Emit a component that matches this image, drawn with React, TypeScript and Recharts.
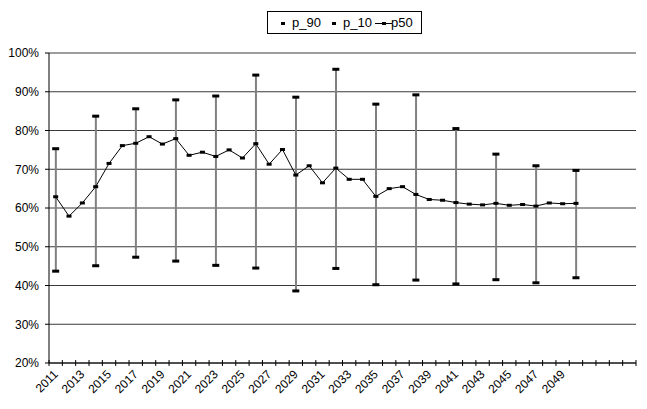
import { ComposedChart, Line, Bar, XAxis, YAxis, CartesianGrid, Legend } from 'recharts'

const years = [
  '2011', '2012', '2013', '2014', '2015', '2016', '2017', '2018', '2019', '2020',
  '2021', '2022', '2023', '2024', '2025', '2026', '2027', '2028', '2029', '2030',
  '2031', '2032', '2033', '2034', '2035', '2036', '2037', '2038', '2039', '2040',
  '2041', '2042', '2043', '2044', '2045', '2046', '2047', '2048', '2049', '2050',
  '', '', '', '',
]

// median, one per year 2011..2050
const p50 = [
  62.9, 57.9, 61.3, 65.5, 71.5, 76.1, 76.7, 78.4, 76.5, 77.9,
  73.6, 74.4, 73.3, 75.0, 72.9, 76.6, 71.3, 75.1, 68.5, 70.9,
  66.5, 70.3, 67.4, 67.4, 63.0, 65.0, 65.5, 63.5, 62.2, 62.0,
  61.4, 61.0, 60.8, 61.2, 60.7, 60.9, 60.5, 61.3, 61.1, 61.2,
]

// percentile bands, only every third year
const bandYears = ['2011', '2014', '2017', '2020', '2023', '2026', '2029', '2032', '2035', '2038', '2041', '2044', '2047', '2050']
const p90 = [75.3, 83.7, 85.6, 87.9, 88.9, 94.3, 88.6, 95.8, 86.8, 89.2, 80.5, 73.9, 70.9, 69.7]
const p10 = [43.7, 45.1, 47.3, 46.3, 45.2, 44.5, 38.6, 44.4, 40.2, 41.4, 40.4, 41.5, 40.7, 42.0]

const yTicks = [20, 30, 40, 50, 60, 70, 80, 90, 100]

const W = 647
const H = 409
const MARGIN = { top: 53, right: 11, left: 0, bottom: 0 }
const Y_AXIS_W = 49
const HALF_BAND = (W - MARGIN.left - MARGIN.right - Y_AXIS_W) / years.length / 2
const FONT = '"Liberation Sans", Arial, sans-serif'

const data = years.map((year, i) => {
  const b = year === '' ? -1 : bandYears.indexOf(year)
  return {
    year,
    p50: i < p50.length ? p50[i] : null,
    p90: b >= 0 ? p90[b] : null,
    p10: b >= 0 ? p10[b] : null,
    band: b >= 0 ? [p10[b], p90[b]] : null,
  }
})

function Dash(w: number, h: number) {
  return (props: any) => {
    const { cx, cy, value, index } = props
    if (value == null || cy == null || !Number.isFinite(cy)) return <g key={`d-${index}`} />
    return <rect key={`d-${index}`} x={cx - w / 2} y={cy - h / 2} width={w} height={h} fill="#000" />
  }
}

function HiLo(props: any) {
  const { x, y, width, height } = props
  if (!Number.isFinite(y) || !Number.isFinite(height) || height === 0) return <g />
  const cx = x + width / 2
  return <line x1={cx} x2={cx} y1={y} y2={y + height} stroke="#808080" strokeWidth={2} />
}

function XTick(props: any) {
  const { x, y, payload, index } = props
  const label = payload.value
  const last = index === years.length - 1
  return (
    <g>
      <line x1={x - HALF_BAND} x2={x - HALF_BAND} y1={y - 3} y2={y + 3} stroke="#000" />
      {last && <line x1={x + HALF_BAND} x2={x + HALF_BAND} y1={y - 3} y2={y + 3} stroke="#000" />}
      {label !== '' && index % 2 === 0 && (
        <text
          x={x + 3}
          y={y + 12}
          textAnchor="end"
          transform={`rotate(-45 ${x + 3} ${y + 12})`}
          fontSize={12}
          fontFamily={FONT}
          fill="#000"
        >
          {label}
        </text>
      )}
    </g>
  )
}

function LegendBox() {
  const txt = { position: 'absolute' as const, top: 3, fontSize: 13, lineHeight: '16px' }
  const dash = (left: number, width = 4) => (
    <span style={{ position: 'absolute', left, top: 10, width, height: 3, background: '#000' }} />
  )
  return (
    <div
      style={{
        position: 'relative',
        width: 155,
        height: 23,
        boxSizing: 'border-box',
        border: '1px solid #000',
        background: '#fff',
        fontFamily: FONT,
        color: '#000',
      }}
    >
      {dash(13)}
      <span style={{ ...txt, left: 24 }}>p_90</span>
      {dash(64)}
      <span style={{ ...txt, left: 75 }}>p_10</span>
      <span style={{ position: 'absolute', left: 107, top: 11, width: 17, height: 1, background: '#000' }} />
      {dash(114, 4)}
      <span style={{ ...txt, left: 123 }}>p50</span>
    </div>
  )
}

export default function App() {
  return (
    <div style={{ position: 'absolute', left: 0, top: 0, width: W, height: H, background: '#fff' }}>
      <ComposedChart width={W} height={H} data={data} margin={MARGIN}>
        <CartesianGrid horizontal vertical={false} stroke="#3a3a3a" />
        <XAxis
          dataKey="year"
          interval={0}
          height={46}
          tickSize={0}
          tickMargin={0}
          tickLine={false}
          tick={<XTick />}
          axisLine={{ stroke: '#000' }}
        />
        <YAxis
          type="number"
          domain={[20, 100]}
          ticks={yTicks}
          width={Y_AXIS_W}
          tickSize={4}
          tickMargin={6}
          tickFormatter={(v) => `${v}%`}
          tick={{ fontSize: 12, fill: '#000', fontFamily: FONT }}
          tickLine={{ stroke: '#000' }}
          axisLine={{ stroke: '#000' }}
        />
        <Legend
          layout="horizontal"
          verticalAlign="middle"
          align="center"
          content={() => <LegendBox />}
          wrapperStyle={{ top: 11, left: 267, width: 155, height: 23 }}
        />
        <Bar dataKey="band" shape={<HiLo />} isAnimationActive={false} />
        <Line
          dataKey="p90"
          stroke="none"
          dot={Dash(7, 3)}
          activeDot={false}
          isAnimationActive={false}
        />
        <Line
          dataKey="p10"
          stroke="none"
          dot={Dash(7, 3)}
          activeDot={false}
          isAnimationActive={false}
        />
        <Line
          dataKey="p50"
          stroke="#000"
          strokeWidth={1}
          dot={Dash(5, 3)}
          activeDot={false}
          isAnimationActive={false}
        />
      </ComposedChart>
    </div>
  )
}
